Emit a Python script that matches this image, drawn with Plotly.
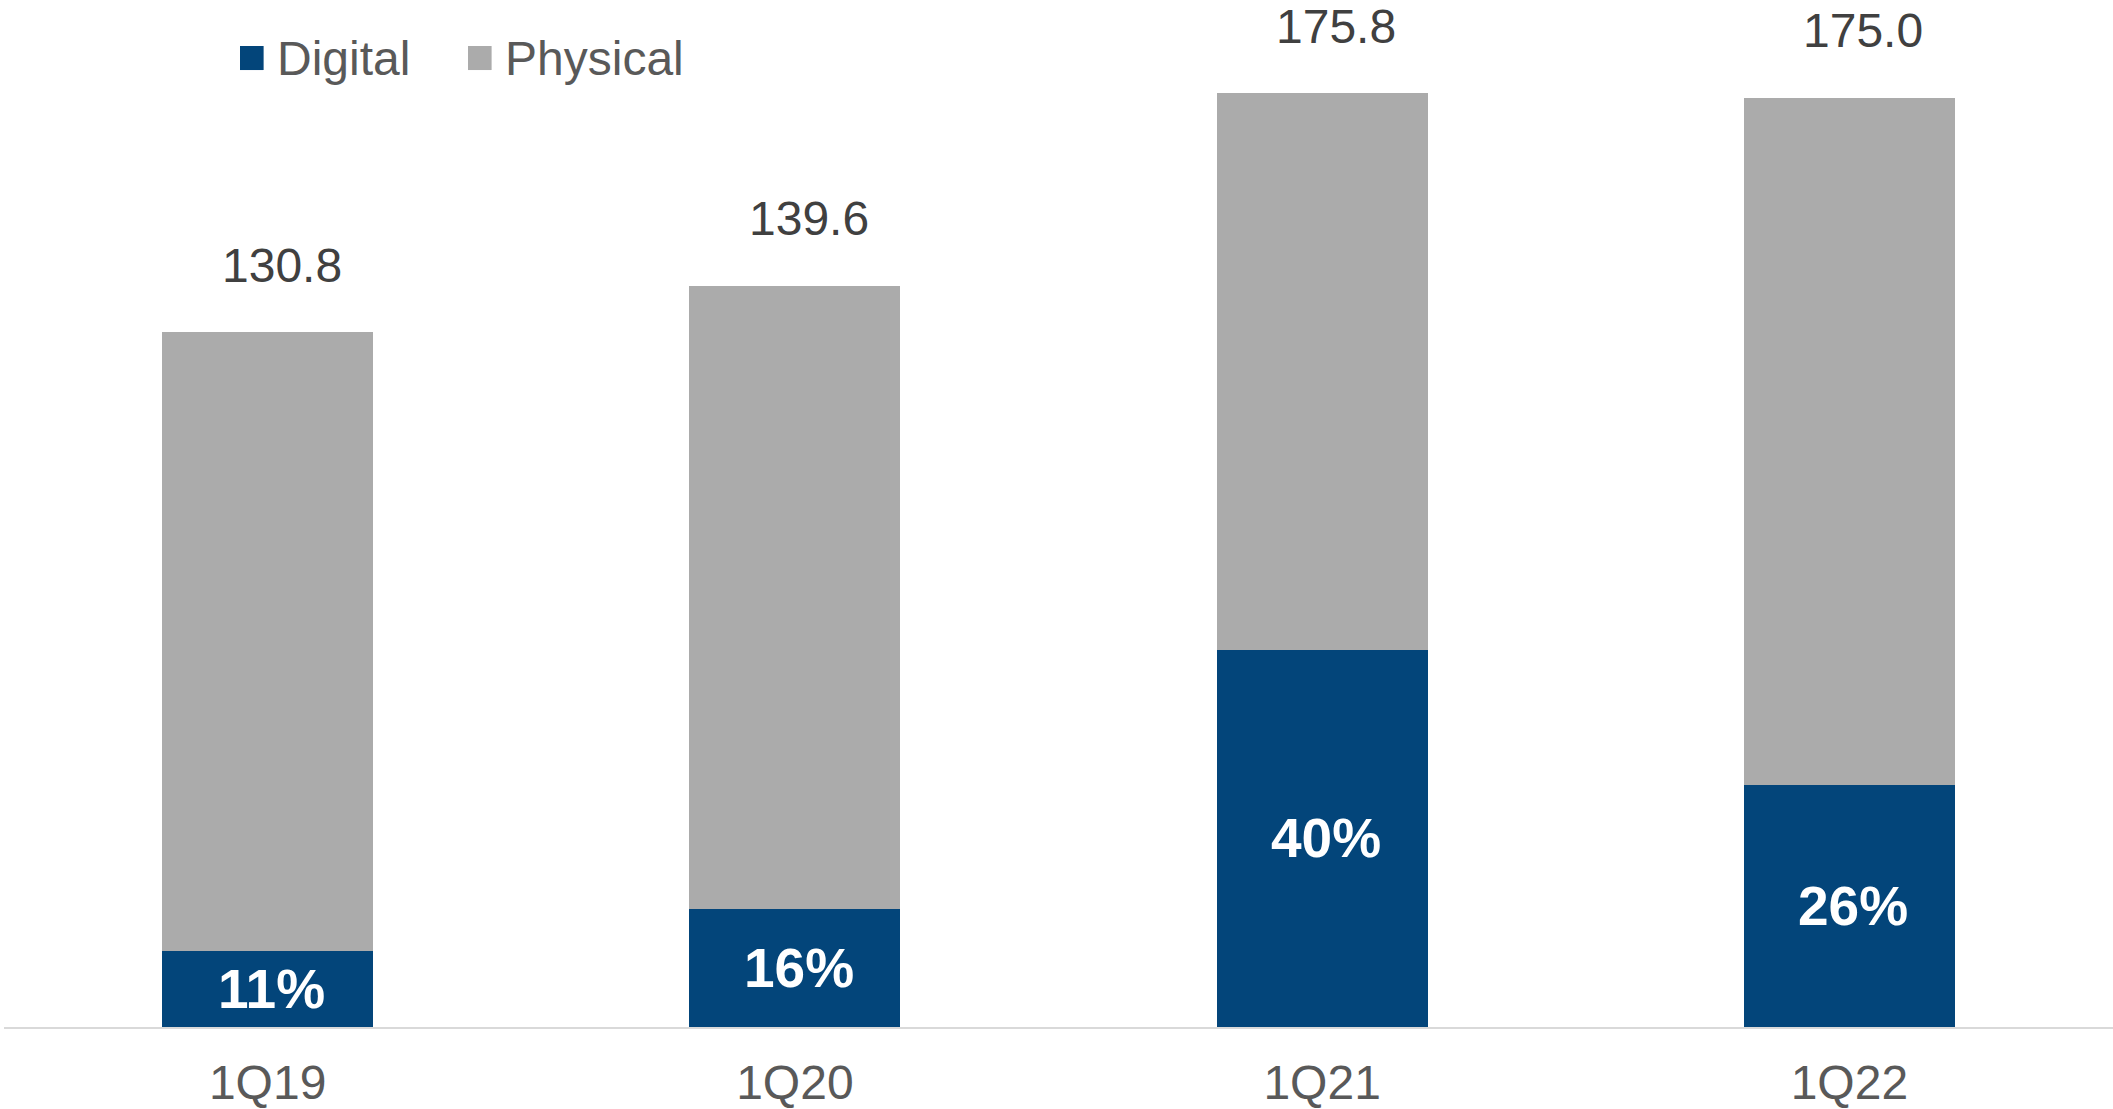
import plotly.graph_objects as go

quarters = ["1Q19", "1Q20", "1Q21", "1Q22"]
digital = [14.4, 22.3, 71.0, 45.5]
physical = [116.4, 117.3, 104.8, 129.5]
totals = [130.8, 139.6, 175.8, 175.0]
total_labels = ["130.8", "139.6", "175.8", "175.0"]
share_labels = ["11%", "16%", "40%", "26%"]

DIGITAL_C = "#03457A"
PHYS_C = "#ABABAB"
FONT = "Liberation Sans, Arial, sans-serif"

fig = go.Figure()
fig.add_trace(go.Bar(x=quarters, y=digital, name="Digital", marker=dict(color=DIGITAL_C, line=dict(width=0)),
                     width=0.4, showlegend=False, hoverinfo="skip"))
fig.add_trace(go.Bar(x=quarters, y=physical, name="Physical", marker=dict(color=PHYS_C, line=dict(width=0)),
                     width=0.4, showlegend=False, hoverinfo="skip"))

annotations = []
for q, d, lab in zip(quarters, digital, share_labels):
    annotations.append(dict(x=q, y=d / 2, text="<b>" + lab + "</b>", showarrow=False,
                            font=dict(family=FONT, size=55, color="white"),
                            xanchor="center", yanchor="middle", xshift=4))
for q, t, lab in zip(quarters, totals, total_labels):
    annotations.append(dict(x=q, y=t, text=lab, showarrow=False,
                            font=dict(family=FONT, size=48, color="#404040"),
                            xanchor="center", yanchor="middle", yshift=67, xshift=14))

# legend (manual, larger swatches)
legend_items = [("Digital", DIGITAL_C, 0.1119, 0.1285), ("Physical", PHYS_C, 0.2200, 0.2366)]
shapes = []
for name, col, x0, xt in legend_items:
    shapes.append(dict(type="rect", xref="paper", yref="paper", x0=x0, x1=x0 + 0.0112,
                       y0=0.9318, y1=0.9552, fillcolor=col, line=dict(width=0)))
    annotations.append(dict(xref="paper", yref="paper", x=xt, y=0.9435, text=name, showarrow=False,
                            xanchor="left", yanchor="middle",
                            font=dict(family=FONT, size=48, color="#595959")))

fig.update_layout(
    width=2113, height=1109,
    margin=dict(l=4, r=0, t=0, b=82),
    barmode="stack",
    plot_bgcolor="white", paper_bgcolor="white",
    annotations=annotations, shapes=shapes,
    showlegend=False,
    xaxis=dict(showline=True, linecolor="#D9D9D9", linewidth=2, showgrid=False,
               ticks="outside", ticklen=12, tickcolor="rgba(0,0,0,0)", automargin=False,
               tickfont=dict(family=FONT, size=48, color="#595959"),
               range=[-0.5, 3.5]),
    yaxis=dict(visible=False, range=[0, 193.4], showgrid=False, zeroline=False, automargin=False),
)

fig.write_html("out.html")
